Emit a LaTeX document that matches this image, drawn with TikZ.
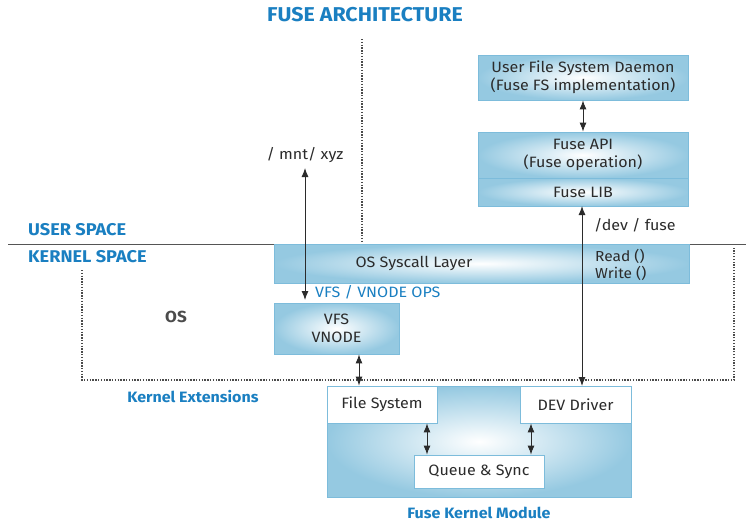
\documentclass[tikz,border=0pt]{standalone}
\usepackage{fontspec}
\setmainfont[FakeStretch=1.07]{Fira Sans}
\usetikzlibrary{arrows.meta}
\definecolor{fuseblue}{HTML}{1A7FC1}
\definecolor{boxedge}{HTML}{7DBCDB}
\definecolor{boxfill}{HTML}{95C9E1}
\definecolor{txt}{HTML}{2B2B2B}
\tikzset{
  panel/.style={draw=boxedge, line width=0.8pt, inner color=white, outer color=boxfill,
    align=center, text=txt, font=\fontsize{15}{18}\selectfont, inner sep=0pt},
  plain/.style={draw=boxedge, line width=0.8pt, fill=white, align=center, text=txt,
    font=\fontsize{15}{18}\selectfont, inner sep=0pt},
  heading/.style={text=fuseblue, font=\bfseries\fontsize{15}{18}\selectfont, inner sep=0pt},
  capsheading/.style={text=fuseblue, font=\bfseries\fontsize{17}{20}\selectfont, inner sep=0pt},
  label/.style={text=txt, font=\fontsize{15}{18}\selectfont, inner sep=0pt, align=left},
  link/.style={line width=0.9pt, draw=txt, {Latex[length=9pt,width=7pt]}-{Latex[length=9pt,width=7pt]}},
  dots/.style={line width=1.3pt, draw=txt!85, dash pattern=on 1.3pt off 1.5pt}
}
\begin{document}
\begin{tikzpicture}[x=1pt,y=-1pt]
\useasboundingbox (0,0) rectangle (746,522);

% title
\node[capsheading, font=\bfseries\fontsize{20}{24}\selectfont] (title) at (365,15) {FUSE ARCHITECTURE};

% user space / kernel space separator
\coordinate (sepL) at (8,244);
\coordinate (sepR) at (746,244);
\draw[line width=1pt, draw=txt!80] (sepL) -- (sepR);
\node[capsheading, anchor=west] (us) at (28,230) {USER SPACE};
\node[capsheading, anchor=west] (ks) at (28,257) {KERNEL SPACE};

% dotted separator in user space
\coordinate (dtop) at (362,39);
\coordinate (dbot) at (362,243);
\draw[dots] (dtop) -- (dbot);

% kernel extension dotted boundary
\coordinate (kL) at (82,270);
\coordinate (kBL) at (82,380);
\coordinate (kBR) at (734,380);
\coordinate (kR) at (734,248);
\draw[dots] (kL) -- (kBL) -- (kBR) -- (kR);

% user space boxes
\node[panel, minimum width=210pt, minimum height=45pt] (daemon) at (583,77.5)
  {User File System Daemon\\(Fuse FS implementation)};
\node[panel, minimum width=210pt, minimum height=46pt] (api) at (583,155)
  {Fuse API\\(Fuse operation)};
\node[panel, minimum width=210pt, minimum height=28pt] (lib) at (583,192)
  {Fuse LIB};
\draw[link] (daemon.south) -- (api.north);

% OS syscall layer
\node[panel, minimum width=415pt, minimum height=39pt] (sys) at (481.5,263.5) {};
\node[label] (systxt) at (414,263) {OS Syscall Layer};
\node[label, anchor=west, font=\fontsize{14.5}{17}\selectfont] (rw) at (595,264.5) {Read ()\\Write ()};

% VFS
\node[panel, minimum width=125pt, minimum height=51pt] (vfs) at (336.5,328.5) {VFS\\VNODE};
\node[text=fuseblue, font=\fontsize{15}{17}\selectfont, anchor=west, inner sep=0pt] (ops) at (315,292) {VFS / VNODE OPS};
\node[text=txt!85, font=\bfseries\fontsize{16}{18}\selectfont, inner sep=0pt] (os) at (176,317) {OS};

% mount path arrow
\node[label] (mnt) at (305,155) {/ mnt/ xyz};
\coordinate (mntT) at (305,168);
\coordinate (mntB) at (305,300);
\draw[link] (mntT) -- (mntB);

% fuse kernel module
\node[panel, minimum width=304pt, minimum height=111pt] (kmod) at (479,441.5) {};
\node[plain, minimum width=110pt, minimum height=37pt] (fs) at (382,404.5) {File System};
\node[plain, minimum width=111pt, minimum height=37pt] (dev) at (575.5,404.5) {DEV Driver};
\node[plain, minimum width=130pt, minimum height=33pt] (queue) at (479,471.5) {Queue \& Sync};
\node[heading] (kmodtxt) at (479,513) {Fuse Kernel Module};
\node[heading] (kext) at (193,397) {Kernel Extensions};

% device path arrow
\node[label, anchor=west] (devfuse) at (594,225) {/dev / fuse};
\coordinate (dvT) at (582,206);
\coordinate (dvB) at (582,386);
\draw[link] (dvT) -- (dvB);

% inner module links
\draw[link] (vfs.south -| 359,0) -- (fs.north -| 359,0);
\draw[link] (fs.south -| 427,0) -- (queue.north -| 427,0);
\draw[link] (dev.south -| 531,0) -- (queue.north -| 531,0);
\end{tikzpicture}
\end{document}
